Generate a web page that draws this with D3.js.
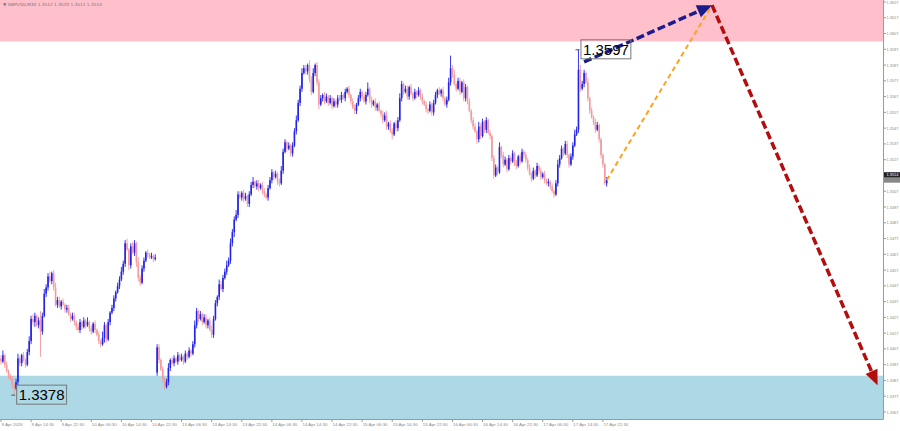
<!DOCTYPE html>
<html><head><meta charset="utf-8">
<script src="https://cdn.jsdelivr.net/npm/d3@7"></script>
<style>html,body{margin:0;padding:0;background:#fff;overflow:hidden}svg{display:block}</style>
</head><body><svg id="c" width="900" height="431"></svg>
<script>
// ---------- DATA ----------
const symbolTitle = "\u25BC GBPUSD,M30  1.3512 1.3520 1.3511 1.3514";
const basePrice = 1.3300;           // pip values below are pips above this base
const firstOpenPip = 101;
const gapOpens = {83: 92};          // Monday open after the weekend gap
const closePips = [
 99,103,97,93,90,88,84,82,86,101,
 98,103,100,97,105,112,126,124,128,122,
 125,118,128,142,146,153,150,155,146,135,
 138,134,137,135,132,133,129,126,128,124,
 121,119,124,121,125,122,124,120,118,123,
 119,116,112,110,114,122,113,124,130,133,
 139,143,147,151,156,161,174,170,160,172,
 168,174,162,152,149,158,163,168,167,165,
 166,164,165,
 108,100,94,88,83,86,95,
 100,98,101,99,103,100,102,99,104,102,
 106,104,110,122,131,126,129,124,127,122,
 125,119,116,126,136,140,148,145,152,156,
 160,163,174,181,189,192,205,203,206,202,
 204,199,205,211,213,210,212,209,211,207,
 205,203,209,214,219,216,218,213,212,220,
 232,238,234,236,231,236,245,252,263,272,
 282,285,283,287,278,270,282,287,276,262,
 266,268,264,267,263,266,261,264,262,266,
 265,268,266,270,272,268,264,260,258,262,
 266,270,267,264,268,272,265,262,264,260,
 262,258,256,252,255,248,250,245,243,250,
 247,252,266,275,270,272,267,273,269,266,
 270,268,271,267,264,262,259,258,262,257,
 263,268,271,269,271,266,262,265,276,285,
 281,275,272,277,270,276,266,273,264,258,
 252,248,245,240,248,242,251,246,252,244,
 242,228,217,222,219,235,230,224,227,221,
 228,226,231,225,223,229,226,232,230,227,
 222,218,215,220,217,223,220,216,218,
 214,212,213,210,207,205,212,224,228,234,231,
 237,230,224,229,236,243,246,284,272,275,
 282,276,266,258,254,251,246,249,240,230,
 224,212,214
];
const wickUp = [
 2,3,1,2,1,1,2,1,2,3, 2,1,2,1,2,3,2,3,2,1, 2,6,2,3,2,2,3,1,2,3, 2,2,1,2,1,2,2,1,2,2,
 1,2,2,1,2,1,3,1,2,1, 2,1,2,1,4,2,1,2,1,2, 2,1,2,2,3,2,2,3,1,2, 3,2,1,3,2,2,2,1,2,1,
 2,1,2, 2,2,1,2,1,2,3,
 1,2,2,1,2,1,2,1,2,1, 2,1,2,3,2,1,2,1,2,2, 1,2,3,2,2,1,3,2,2,2, 3,2,3,2,2,3,2,2,1,2,
 2,1,2,2,3,1,2,2,1,2, 2,1,2,2,2,1,2,1,2,3, 2,2,1,2,1,2,2,3,2,2, 3,2,2,1,3,2,3,1,2,2,
 2,1,2,2,1,2,1,2,1,2, 2,2,1,2,1,2,1,2,2,1, 2,2,1,2,2,4,1,2,1,2, 1,2,1,2,2,3,1,2,2,1,
 2,2,3,2,1,2,2,1,2,1, 2,1,2,1,2,1,2,1,2,1, 2,2,1,2,1,2,1,2,3,8, 2,3,1,2,2,1,2,2,1,2,
 1,2,2,1,3,2,2,1,2,1, 2,1,2,2,1,3,1,2,2,1, 2,1,2,1,2,1,2,2,1,2,
 1,2,1,2,1,2,1,2,1, 2,1,2,1,2,1,2,3,2,2,1,
 2,2,1,2,2,3,2,13,3,2, 2,1,3,1,2,1,2,2,1,1, 1,1,2
];
const wickDn = [
 2,1,2,1,2,1,2,4,1,2, 2,2,1,2,1,2,2,2,3,1, 2,16,2,1,2,2,1,2,2,1, 2,1,2,1,2,2,1,2,1,2,
 2,1,2,2,1,2,1,2,2,1, 2,1,2,2,1,3,2,1,2,1, 2,2,1,2,1,2,2,1,3,2, 1,2,3,2,2,1,2,1,2,1,
 1,2,1, 2,2,1,2,2,1,2,
 2,1,2,1,2,1,1,2,1,2, 1,2,1,2,2,2,1,2,1,2, 2,1,2,2,1,2,2,1,2,1, 2,1,2,2,3,1,2,1,2,2,
 1,2,2,1,2,1,2,2,1,2, 2,1,2,1,2,2,1,2,2,1, 2,1,2,1,2,2,1,2,1,2, 2,1,2,2,2,2,1,2,2,3,
 1,2,2,1,2,1,2,1,2,2, 1,2,1,2,1,2,2,1,2,2, 1,2,2,1,2,1,2,2,1,2, 2,1,2,2,1,2,2,1,3,1,
 2,2,1,2,2,1,2,2,1,2, 1,2,1,2,2,1,2,2,1,2, 2,1,2,1,2,2,1,2,1,2, 2,1,2,1,2,1,2,2,2,1,
 2,2,1,3,2,2,1,2,2,1, 2,2,2,1,2,1,2,2,1,2, 1,2,1,2,2,1,2,1,2,2,
 2,1,2,1,2,1,2,2,1, 2,1,2,2,1,2,1,2,2,1,2,
 1,2,2,1,2,1,1,2,2,1, 2,1,2,2,1,2,2,1,2,2, 2,1,2
];
const timeLabels = ["9 Apr 2026","9 Apr 14:30","9 Apr 22:30","10 Apr 06:30","10 Apr 14:30","10 Apr 22:30",
 "13 Apr 06:30","13 Apr 14:30","13 Apr 22:30","14 Apr 06:30","14 Apr 14:30","14 Apr 22:30",
 "15 Apr 06:30","15 Apr 14:30","15 Apr 22:30","16 Apr 06:30","16 Apr 14:30","16 Apr 22:30",
 "17 Apr 06:30","17 Apr 14:30","17 Apr 22:30"];
const timeLabelBars = [0,16,32,48,64,80,96,112,128,144,160,176,192,208,224,240,256,272,288,304,320];
const priceTicks = [1.3367,1.3377,1.3387,1.3397,1.3407,1.3417,1.3427,1.3437,1.3447,1.3457,1.3467,1.3477,
 1.3487,1.3497,1.3507,1.3517,1.3527,1.3537,1.3547,1.3557,1.3567,1.3577,1.3587,1.3597,1.3607,1.3617,1.3627];
const sellZone = [1.3602, 1.3650];
const buyZone = [1.3355, 1.3390];
const bluePath = [[310, 1.3589], [378, 1.3625]];
const orangePath = [[322, 1.3514], [377, 1.3623]];
const redPath = [[378, 1.3625], [466, 1.3384]];
const markedLevels = [{bar: 307, price: 1.3597, text: "1.3597"}, {bar: 7, price: 1.3378, text: "1.3378"}];
const lastPrice = 1.3514;

// ---------- BUILD ----------
const bars = closePips.map((c, i) => {
  const o = i === 0 ? firstOpenPip : (gapOpens[i] !== undefined ? gapOpens[i] : closePips[i - 1]);
  const h = Math.max(o, c) + (wickUp[i] || 0);
  const l = Math.min(o, c) - (wickDn[i] || 0);
  const f = p => basePrice + p / 10000;
  return {i, o: f(o), c: f(c), h: f(h), l: f(l)};
});

const W = 900, H = 431, plotR = 883, plotB = 419;
const svg = d3.select("#c");
const x = d3.scaleLinear().domain([0, 469]).range([1, 1 + 469 * 1.881]);
const y = d3.scaleLinear().domain([1.3367, 1.3627]).range([412, 2]);

svg.append("rect").attr("width", W).attr("height", H).attr("fill", "#fff");
svg.append("defs").append("clipPath").attr("id", "clip")
  .append("rect").attr("x", 0).attr("y", 0).attr("width", plotR).attr("height", plotB);
const plot = svg.append("g").attr("clip-path", "url(#clip)");

// zones
[[sellZone, "#ffc0cb"], [buyZone, "#add8e6"]].forEach(([z, col]) => {
  plot.append("rect").attr("x", 0).attr("width", plotR)
    .attr("y", y(z[1])).attr("height", y(z[0]) - y(z[1])).attr("fill", col);
});

// title
svg.append("text").attr("x", 3).attr("y", 6).attr("font-family", "DejaVu Sans, sans-serif")
  .attr("font-size", 4.3).attr("fill", "#777").text(symbolTitle);

// candles
const bull = "#2323e8", bear = "#f29a9e";
const cg = plot.append("g");
cg.selectAll("line").data(bars).join("line")
  .attr("x1", d => x(d.i)).attr("x2", d => x(d.i))
  .attr("y1", d => y(d.h)).attr("y2", d => y(d.l))
  .attr("stroke", d => d.c >= d.o ? bull : bear).attr("stroke-width", 0.9);
cg.selectAll("rect").data(bars).join("rect")
  .attr("x", d => x(d.i) - 0.8).attr("width", 1.6)
  .attr("y", d => y(Math.max(d.o, d.c)))
  .attr("height", d => Math.max(1, Math.abs(y(d.o) - y(d.c))))
  .attr("fill", d => d.c >= d.o ? bull : bear);

// axes
const axFont = "Liberation Sans, Arial, sans-serif";
const axG = svg.append("g");
axG.append("line").attr("x1", plotR + 0.5).attr("x2", plotR + 0.5).attr("y1", 0).attr("y2", plotB + 0.5)
  .attr("stroke", "#9a9a9a");
axG.append("line").attr("x1", 0).attr("x2", plotR + 0.5).attr("y1", plotB + 0.5).attr("y2", plotB + 0.5)
  .attr("stroke", "#9a9a9a");
priceTicks.forEach(p => {
  axG.append("line").attr("x1", plotR).attr("x2", plotR + 3).attr("y1", y(p)).attr("y2", y(p)).attr("stroke", "#9a9a9a");
  axG.append("text").attr("x", plotR + 3.5).attr("y", y(p) + 1.5)
    .attr("font-family", axFont).attr("font-size", 3.9).attr("fill", "#8a8a8a")
    .text(p.toFixed(4));
});
timeLabels.forEach((t, k) => {
  const xx = x(timeLabelBars[k]);
  axG.append("line").attr("x1", xx).attr("x2", xx).attr("y1", plotB).attr("y2", plotB + 3).attr("stroke", "#9a9a9a");
  axG.append("text").attr("x", xx + 0.5).attr("y", plotB + 7)
    .attr("font-family", axFont).attr("font-size", 4.4).attr("fill", "#8a8a8a").text(t);
});
// current price marker
axG.append("rect").attr("x", plotR + 1).attr("y", y(lastPrice) - 8).attr("width", W - plotR).attr("height", 5.5).attr("fill", "#222");
axG.append("rect").attr("x", plotR + 1).attr("y", y(lastPrice) - 2.5).attr("width", W - plotR).attr("height", 5).attr("fill", "#888");
axG.append("text").attr("x", plotR + 3.5).attr("y", y(lastPrice) - 3.8)
  .attr("font-family", axFont).attr("font-size", 3.9).attr("fill", "#fff").text(lastPrice.toFixed(4));

// forecast arrows
function dashed(path, col, w, dash, head) {
  const [a, b] = path.map(([i, p]) => [x(i), y(p)]);
  let end = b;
  if (head) {
    const ang = Math.atan2(b[1] - a[1], b[0] - a[0]);
    end = [b[0] - Math.cos(ang) * 12, b[1] - Math.sin(ang) * 12];
  }
  plot.append("line").attr("x1", a[0]).attr("y1", a[1]).attr("x2", end[0]).attr("y2", end[1])
    .attr("stroke", col).attr("stroke-width", w).attr("stroke-dasharray", dash);
  if (head) {
    const ang = Math.atan2(b[1] - a[1], b[0] - a[0]);
    const L = 15, Wd = 6.5;
    const bx = b[0] - Math.cos(ang) * L, by = b[1] - Math.sin(ang) * L;
    const px = -Math.sin(ang) * Wd, py = Math.cos(ang) * Wd;
    plot.append("polygon")
      .attr("points", [[b[0], b[1]], [bx + px, by + py], [bx - px, by - py]].map(p => p.join(",")).join(" "))
      .attr("fill", col);
  }
}
dashed(orangePath, "#ffa21f", 2, "5,3.5", false);
dashed(bluePath, "#1b1b8c", 3.5, "8,3.5", true);
dashed(redPath, "#b30d0d", 3.5, "8,3.5", true);

// marked level labels
markedLevels.forEach(m => {
  const bx = x(m.bar), by = y(m.price);
  const g = svg.append("g");
  g.append("line").attr("x1", bx - 3).attr("x2", bx + 1).attr("y1", by + 0.5).attr("y2", by + 0.5).attr("stroke", "#555");
  const t = g.append("text").attr("x", bx + 4.5).attr("y", by + 5.5)
    .attr("font-family", "Liberation Sans, Arial, sans-serif").attr("font-size", 15).attr("fill", "#000").text(m.text);
  const bb = t.node().getBBox();
  g.insert("rect", "text").attr("x", bb.x - 2).attr("y", by - 9.5).attr("width", bb.width + 4).attr("height", 19)
    .attr("fill", "none").attr("stroke", "#777").attr("stroke-width", 1);
});
</script></body></html>
